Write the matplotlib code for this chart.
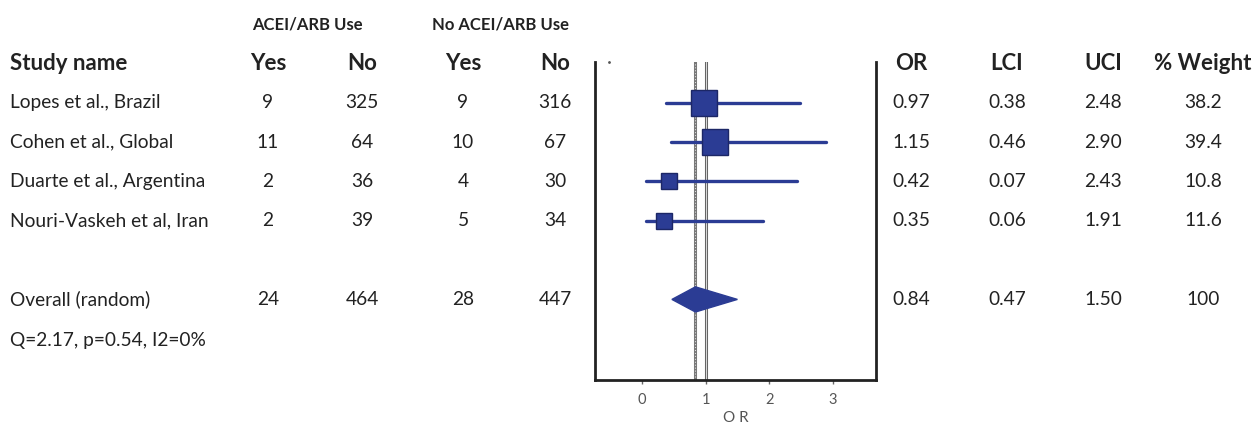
import matplotlib.pyplot as plt
from matplotlib.patches import Polygon
from matplotlib.transforms import blended_transform_factory

studies = ["Lopes et al., Brazil", "Cohen et al., Global",
           "Duarte et al., Argentina", "Nouri-Vaskeh et al, Iran"]
acei_yes = [9, 11, 2, 2]
acei_no = [325, 64, 36, 39]
noacei_yes = [9, 10, 4, 5]
noacei_no = [316, 67, 30, 34]
odds = [0.97, 1.15, 0.42, 0.35]
lci = [0.38, 0.46, 0.07, 0.06]
uci = [2.48, 2.90, 2.43, 1.91]
weight = [38.2, 39.4, 10.8, 11.6]

overall_label = "Overall (random)"
overall_counts = [24, 464, 28, 447]
overall_or, overall_lci, overall_uci, overall_weight = 0.84, 0.47, 1.50, 100
het_text = "Q=2.17, p=0.54, I2=0%"
xticks = [0, 1, 2, 3]

plt.rcParams['font.family'] = ['Lato', 'DejaVu Sans']
txt = '#222222'
navy = '#2b3c94'

fig = plt.figure(figsize=(12.55, 4.25), dpi=100)
W, H = 1255, 425
ax = fig.add_axes([595 / W, 1 - 380 / H, (876 - 595) / W, (380 - 62) / H])
ax.set_xlim(-0.74, 3.68)
ax.set_ylim(7.05, -1.04)

# reference lines
ax.axvline(overall_or, color='#777777', lw=2.2, zorder=1)
ax.axvline(overall_or, color='#dddddd', lw=0.8, ls=':', zorder=1)
ax.axvline(1, color='#666666', lw=2.2, zorder=1)
ax.axvline(1, color='#eeeeee', lw=0.6, zorder=1)

rows = list(range(len(studies)))
for i in rows:
    ax.plot([lci[i], uci[i]], [i, i], color=navy, lw=2.4, solid_capstyle='round', zorder=2)
    side = (13 + weight[i] * 0.33) * 0.72
    ax.plot(odds[i], i, marker='s', ms=side, color=navy, mec='#1c2766', mew=1, zorder=3)

yo = 5
h = 0.32
ax.add_patch(Polygon([(overall_lci, yo), (overall_or, yo - h), (overall_uci, yo), (overall_or, yo + h)],
                     closed=True, color=navy, zorder=3))
ax.plot(-0.52, -1.04, marker='.', ms=2, color='#555555', clip_on=False)

ax.spines['top'].set_visible(False)
for s in ['left', 'right', 'bottom']:
    ax.spines[s].set_linewidth(2)
    ax.spines[s].set_color('#222222')
ax.set_yticks([])
ax.set_xticks(xticks)
ax.tick_params(axis='x', colors='#666666', labelsize=10.5, length=3, width=1, pad=6)
for lab in ax.get_xticklabels():
    lab.set_color('#555555')
ax.set_xlabel('O R', color='#555555', fontsize=11, labelpad=3)

tr = blended_transform_factory(fig.transFigure, ax.transData)
fs = 13.8
fsh = 16

def t(xpx, y, s, ha='center', bold=False, size=None):
    ax.text(xpx / W, y, s, transform=tr, ha=ha, va='center', color=txt,
            fontsize=size or (fsh if bold else fs), fontweight='bold' if bold else 'normal',
            clip_on=False)

t(307, -2, "ACEI/ARB Use", bold=True, size=12)
t(500, -2, "No ACEI/ARB Use", bold=True, size=12)
t(10, -1, "Study name", ha='left', bold=True)
cols = [268, 362, 463, 555]
for c, lab in zip(cols, ["Yes", "No", "Yes", "No"]):
    t(c, -1, lab, bold=True)
rcols = [911, 1007, 1103, 1203]
for c, lab in zip(rcols, ["OR", "LCI", "UCI", "% Weight"]):
    t(c, -1, lab, bold=True)

for i in rows:
    t(10, i, studies[i], ha='left')
    for c, v in zip(cols, [acei_yes[i], acei_no[i], noacei_yes[i], noacei_no[i]]):
        t(c, i, str(v))
    for c, v in zip(rcols, [f"{odds[i]:.2f}", f"{lci[i]:.2f}", f"{uci[i]:.2f}", f"{weight[i]:.1f}"]):
        t(c, i, v)

t(10, yo, overall_label, ha='left')
for c, v in zip(cols, overall_counts):
    t(c, yo, str(v))
for c, v in zip(rcols, [f"{overall_or:.2f}", f"{overall_lci:.2f}", f"{overall_uci:.2f}", str(overall_weight)]):
    t(c, yo, v)
t(10, 6.05, het_text, ha='left')

fig.savefig('out.png', dpi=100)
